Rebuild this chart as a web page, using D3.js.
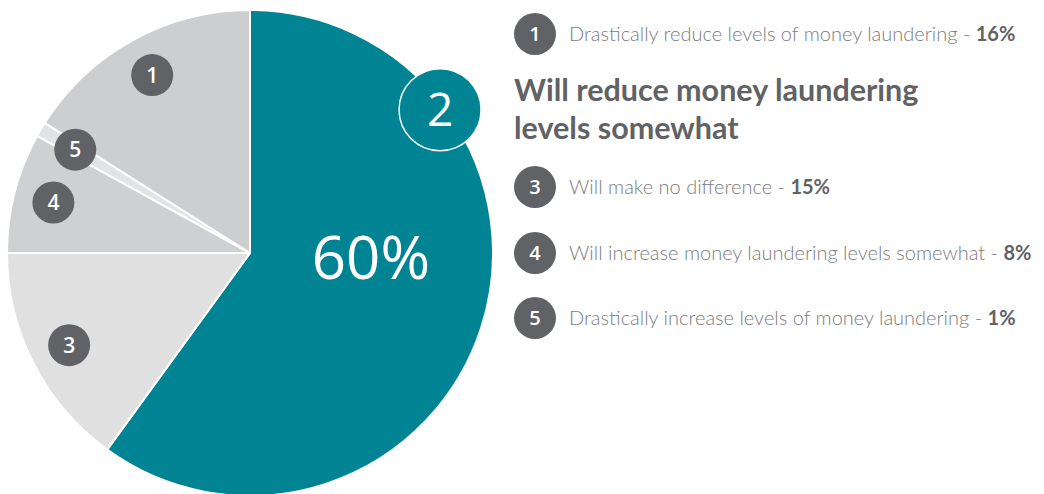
<!DOCTYPE html>
<html>
<head>
<meta charset="utf-8">
<script src="https://cdn.jsdelivr.net/npm/d3@7"></script>
<style>
  html, body { margin: 0; padding: 0; background: #fff; }
  svg { display: block; }
</style>
</head>
<body>
<svg id="chart" width="1044" height="494"></svg>
<script>
// Survey answers, drawn clockwise from 12 o'clock
const ids = [2, 3, 4, 5, 1];
const shares = [60, 15, 8, 1, 16];
const colors = ["#008494", "#e0e0e1", "#cfd0d2", "#e2e3e4", "#cdced0"];

// Legend rows (the highlighted answer is shown as a heading instead)
const legendIds = [1, 3, 4, 5];
const legendTexts = [
  "Drastically reduce levels of money laundering",
  "Will make no difference",
  "Will increase money laundering levels somewhat",
  "Drastically increase levels of money laundering"
];
const legendValues = [16, 15, 8, 1];
const headingLines = ["Will reduce money laundering", "levels somewhat"];

const svg = d3.select("#chart");
const cx = 250, cy = 253, R = 243;
const dark = "#616265";

const pie = d3.pie().sort(null).value(d => d.v);
const data = ids.map((id, i) => ({ id, v: shares[i], c: colors[i] }));
const arcs = pie(data);

const g = svg.append("g").attr("transform", `translate(${cx},${cy})`);
const arc = d3.arc().innerRadius(0).outerRadius(R);

g.selectAll("path.slice").data(arcs).enter().append("path")
  .attr("class", "slice")
  .attr("d", arc)
  .attr("fill", d => d.data.c)
  .attr("stroke", "#fff")
  .attr("stroke-width", 2)
  .attr("stroke-linejoin", "round");

// Numbered markers for the grey slices
const labelArc = d3.arc().innerRadius(203).outerRadius(203);
const small = arcs.filter(d => d.data.id !== 2);
const mk = g.selectAll("g.mk").data(small).enter().append("g")
  .attr("class", "mk")
  .attr("transform", d => `translate(${labelArc.centroid(d)})`);
mk.append("circle").attr("r", 21).attr("fill", dark);
mk.append("text")
  .attr("text-anchor", "middle").attr("dy", "0.36em")
  .attr("fill", "#fff")
  .style("font-family", "'Open Sans', sans-serif")
  .style("font-weight", 600)
  .style("font-size", "21px")
  .text(d => d.data.id);

// Highlighted slice: big marker on the rim and the share in the middle
const main = arcs[0];
const rimAngle = 53 * Math.PI / 180;
const rimR = 238;
const big = g.append("g")
  .attr("transform", `translate(${rimR * Math.sin(rimAngle)},${-rimR * Math.cos(rimAngle)})`);
big.append("circle").attr("r", 41).attr("fill", "#008494")
  .attr("stroke", "#fff").attr("stroke-width", 1.5);
big.append("text")
  .attr("text-anchor", "middle").attr("dy", "0.36em")
  .attr("fill", "#fff")
  .style("font-family", "'Open Sans', sans-serif")
  .style("font-size", "46px")
  .text(main.data.id);

const midAngle = 92 * Math.PI / 180;
g.append("text")
  .attr("x", 121 * Math.sin(midAngle))
  .attr("y", -121 * Math.cos(midAngle))
  .attr("text-anchor", "middle").attr("dy", "0.36em")
  .attr("fill", "#fff")
  .style("font-family", "'Open Sans', sans-serif")
  .style("font-size", "60px")
  .text(main.data.v + "%");

// Legend
const rowY = d3.scaleOrdinal().domain(legendIds).range([34, 187, 253, 318]);
const leg = svg.append("g");
legendIds.forEach((id, i) => {
  const y = rowY(id);
  leg.append("circle").attr("cx", 535).attr("cy", y).attr("r", 21).attr("fill", dark);
  leg.append("text")
    .attr("x", 535).attr("y", y).attr("dy", "0.36em")
    .attr("text-anchor", "middle").attr("fill", "#fff")
    .style("font-family", "'Open Sans', sans-serif")
    .style("font-weight", 600).style("font-size", "20px")
    .text(id);
  const t = leg.append("text")
    .attr("x", 569).attr("y", y).attr("dy", "0.35em")
    .style("font-family", "Lato, sans-serif")
    .style("font-size", "20px");
  t.append("tspan").attr("fill", "#7b7c7e").style("font-weight", 300)
    .text(legendTexts[i] + " - ");
  t.append("tspan").attr("fill", dark).style("font-weight", 700)
    .text(legendValues[i] + "%");
});

leg.selectAll("text.head").data(headingLines).enter().append("text")
  .attr("class", "head")
  .attr("x", 514).attr("y", (d, i) => 101 + i * 38)
  .attr("fill", dark)
  .style("font-family", "Lato, sans-serif")
  .style("font-weight", 700)
  .style("font-size", "30.5px")
  .text(d => d);
</script>
</body>
</html>
